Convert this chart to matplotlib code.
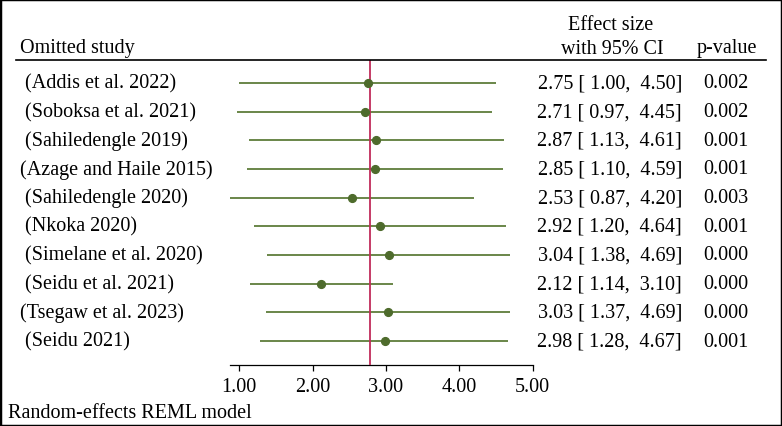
import matplotlib
matplotlib.use("Agg")
import matplotlib.pyplot as plt
import matplotlib.patches as mpatches
import matplotlib.transforms as mtransforms

# --- dados (leave-one-out, REML) ---
studies = [" (Addis et al. 2022)", " (Soboksa et al. 2021)", " (Sahiledengle 2019)",
           "(Azage and Haile 2015)", " (Sahiledengle 2020)", " (Nkoka 2020)",
           " (Simelane et al. 2020)", " (Seidu et al. 2021)", "(Tsegaw et al. 2023)",
           " (Seidu 2021)"]
effect = [2.75, 2.71, 2.87, 2.85, 2.53, 2.92, 3.04, 2.12, 3.03, 2.98]
lower = [1.00, 0.97, 1.13, 1.10, 0.87, 1.20, 1.38, 1.14, 1.37, 1.28]
upper = [4.50, 4.45, 4.61, 4.59, 4.20, 4.64, 4.69, 3.10, 4.69, 4.67]
pvals = ["0.002", "0.002", "0.001", "0.001", "0.003", "0.001", "0.000", "0.000", "0.000", "0.001"]
overall = 2.78
xticks = [1, 2, 3, 4, 5]
xtick_labels = ["1.00", "2.00", "3.00", "4.00", "5.00"]

W, H = 782, 427
plt.rcParams['font.family'] = ['Liberation Serif', 'DejaVu Serif']
FS = 14.5
GREEN = '#5e7d3a'
DOT = '#4e6b2c'
RED = '#c02c5a'

fig = plt.figure(figsize=(W / 100, H / 100), dpi=100)

def fx(px):
    return px / W

def fy(py):
    return 1 - py / H

# area do gráfico (pixels: x 230-534, y 61-366)
ax = fig.add_axes([fx(230), fy(366), fx(534) - fx(230), fy(61) - fy(366)])
n = len(studies)
rows = list(range(n))
ax.set_xlim(0.873, 5.018)
ax.set_ylim(n - 1 + 0.837, -0.80)

for i in rows:
    ax.plot([lower[i], upper[i]], [i, i], color=GREEN, lw=1.3, solid_capstyle='butt', zorder=2)
ax.plot(effect, rows, 'o', color=DOT, markersize=5.6, zorder=4)
ax.axvline(overall, color=RED, lw=1.3, zorder=3)

for s in ['top', 'right', 'left']:
    ax.spines[s].set_visible(False)
ax.spines['bottom'].set_bounds(0.873, 5.0)
ax.spines['bottom'].set_linewidth(0.9)
ax.set_yticks([])
ax.set_xticks(xticks)
ax.set_xticklabels(xtick_labels, fontsize=FS)
ax.tick_params(axis='x', length=4.3, width=0.9, pad=4, direction='out')

# textos por linha
tr = mtransforms.blended_transform_factory(fig.transFigure, ax.transData)
for i in rows:
    ax.text(fx(20), i, studies[i], transform=tr, fontsize=FS, va='center', ha='left')
    ci_txt = f"{effect[i]:.2f} [ {lower[i]:.2f},  {upper[i]:.2f}]"
    ax.text(fx(682), i, ci_txt, transform=tr, fontsize=FS, va='center', ha='right')
    ax.text(fx(703), i, pvals[i], transform=tr, fontsize=FS, va='center', ha='left')

# cabeçalhos
fig.text(fx(20), fy(53.5), "Omitted study", fontsize=FS, va='baseline', ha='left')
fig.text(fx(611), fy(30), "Effect size", fontsize=FS, va='baseline', ha='center')
fig.text(fx(612), fy(53.5), "with 95% CI", fontsize=FS, va='baseline', ha='center')
fig.text(fx(727), fy(53.5), "p-value", fontsize=FS, va='baseline', ha='center')
fig.add_artist(plt.Line2D([fx(16), fx(766)], [fy(61), fy(61)], color='black', lw=1.2,
                          transform=fig.transFigure))

fig.text(fx(8), fy(418), "Random-effects REML model", fontsize=FS, va='baseline', ha='left')

# moldura
fig.add_artist(mpatches.Rectangle((0, 0), 1, 1, transform=fig.transFigure, fill=False,
                                  edgecolor='black', lw=2.5))

fig.savefig("out.png", dpi=100)
